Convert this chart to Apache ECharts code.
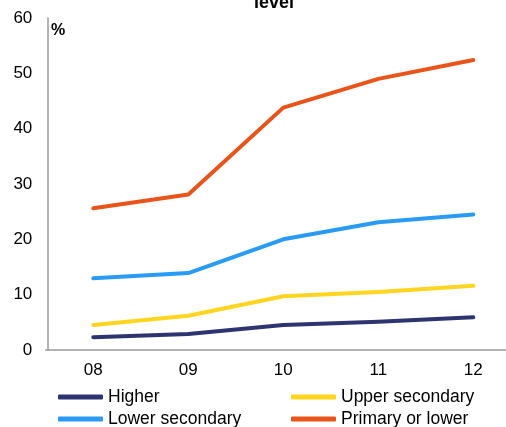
<!DOCTYPE html>
<html><head><meta charset="utf-8">
<script src="https://cdn.jsdelivr.net/npm/echarts@6/dist/echarts.min.js"></script>
<style>html,body{margin:0;padding:0;background:#fff}#c{width:506px;height:427px}</style>
</head><body><div id="c"></div>
<script>
const categories = ['08','09','10','11','12'];
const higher = [2.3, 2.9, 4.5, 5.1, 5.9];
const upperSecondary = [4.5, 6.2, 9.7, 10.5, 11.6];
const lowerSecondary = [12.95, 13.9, 20.0, 23.1, 24.5];
const primaryOrLower = [25.6, 28.1, 43.8, 49.0, 52.4];
const yTicks = [0, 10, 20, 30, 40, 50, 60];

const seriesDefs = [
  {name:'Higher', data:higher, color:'#2E3470'},
  {name:'Upper secondary', data:upperSecondary, color:'#FFD520'},
  {name:'Lower secondary', data:lowerSecondary, color:'#2A9BF5'},
  {name:'Primary or lower', data:primaryOrLower, color:'#E8541A'}
];
const legendPos = [[53,383],[286,383],[53,405],[286,405]];
const font = 'Liberation Sans, Arial, sans-serif';
const chart = echarts.init(document.getElementById('c'));
chart.setOption({
  animation:false,
  title:{text:'level', left:249, top:-11,
    textStyle:{fontFamily:font, fontWeight:'bold', fontSize:18, color:'#000'}},
  graphic:[{type:'text', left:51, top:23, style:{text:'%', fontFamily:font, fontWeight:'bold', fontSize:16, fill:'#000'}}],
  legend: seriesDefs.map((s,i)=>({
    data:[{name:s.name}], left:legendPos[i][0], top:legendPos[i][1],
    icon:'roundRect', itemWidth:45, itemHeight:5, itemGap:0,
    textStyle:{fontFamily:font, fontSize:17.5, color:'#000', padding:[0,0,0,0]}
  })),
  grid:{left:45.8, width:475, top:18, bottom:77, containLabel:false, outerBoundsMode:'none'},
  xAxis:{type:'category', data:categories, boundaryGap:true,
    axisLine:{lineStyle:{color:'#999', width:1.5}}, axisTick:{show:false},
    axisLabel:{fontFamily:font, fontSize:17, color:'#000', margin:12}},
  yAxis:{type:'value', min:yTicks[0], max:yTicks[yTicks.length-1], interval:10, offset:-1.5,
    axisLine:{show:true, lineStyle:{color:'#999', width:1.5}}, axisTick:{show:false},
    splitLine:{show:false},
    axisLabel:{fontFamily:font, fontSize:17, color:'#000', margin:15}},
  series: seriesDefs.map(s=>({
    name:s.name, type:'line', data:s.data, symbol:'none',
    lineStyle:{color:s.color, width:4, cap:'round', join:'round'},
    itemStyle:{color:s.color}
  }))
});
</script></body></html>
